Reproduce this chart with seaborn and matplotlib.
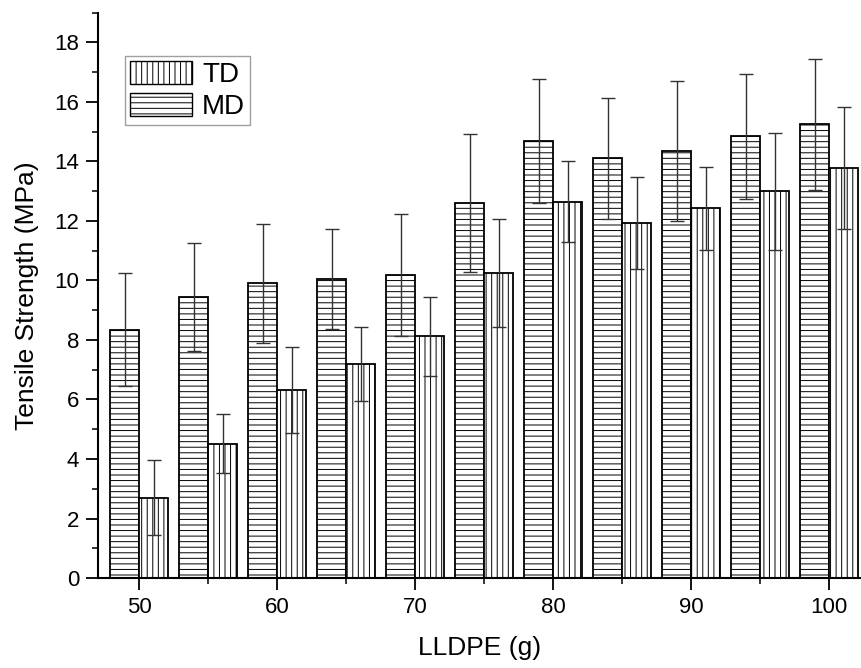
import numpy as np
import pandas as pd
import matplotlib.pyplot as plt
import seaborn as sns
from matplotlib.patches import Patch
from matplotlib.ticker import MultipleLocator

# LLDPE amount (g)
lldpe = [50, 55, 60, 65, 70, 75, 80, 85, 90, 95, 100]

# Tensile strength (MPa) and error for each direction
md_strength = [8.35, 9.45, 9.9, 10.05, 10.2, 12.6, 14.7, 14.1, 14.35, 14.85, 15.25]
md_error = [1.9, 1.82, 2.0, 1.67, 2.05, 2.33, 2.08, 2.03, 2.35, 2.1, 2.2]
td_strength = [2.7, 4.52, 6.32, 7.2, 8.12, 10.25, 12.65, 11.93, 12.42, 13.0, 13.78]
td_error = [1.25, 0.98, 1.46, 1.25, 1.33, 1.83, 1.35, 1.55, 1.38, 1.97, 2.04]

directions = ["MD", "TD"]

sns.set_style("ticks")
plt.rcParams["font.family"] = ["Liberation Sans", "DejaVu Sans"]
plt.rcParams["hatch.linewidth"] = 0.7
plt.rcParams["hatch.color"] = "#222222"
plt.rcParams["text.color"] = "black"
plt.rcParams["axes.labelcolor"] = "black"

df = pd.DataFrame({
    "LLDPE": lldpe * 2,
    "Strength": md_strength + td_strength,
    "Direction": ["MD"] * len(lldpe) + ["TD"] * len(lldpe),
})

fig = plt.figure(figsize=(8.61, 6.68), dpi=100)
ax = fig.add_axes([0.1138, 0.1347, 0.8862, 0.8463])

bar_width = 0.84
sns.barplot(data=df, x="LLDPE", y="Strength", hue="Direction", hue_order=directions,
            native_scale=True, dodge=True, width=bar_width, errorbar=None,
            palette=["white", "white"], edgecolor="black", linewidth=1.3,
            legend=False, ax=ax)

# hatching: horizontal for MD (first hue level), vertical for TD
hatches = {"MD": "---", "TD": "|||"}
n = len(lldpe)
for i, bar in enumerate(ax.patches[:2 * n]):
    bar.set_hatch(hatches[directions[i // n]])

# error bars at the centre of each dodged bar
step = 5
offset = bar_width * step / 4
x = np.array(lldpe, dtype=float)
ax.errorbar(x - offset, md_strength, yerr=md_error, fmt="none", ecolor="#333333",
            elinewidth=1.0, capsize=5, capthick=1.0, zorder=5)
ax.errorbar(x + offset, td_strength, yerr=td_error, fmt="none", ecolor="#333333",
            elinewidth=1.0, capsize=5, capthick=1.0, zorder=5)

ax.set_xlim(47, 102.3)
ax.set_ylim(0, 19)
ax.xaxis.set_major_locator(MultipleLocator(10))
ax.xaxis.set_minor_locator(MultipleLocator(5))
ax.yaxis.set_major_locator(MultipleLocator(2))
ax.yaxis.set_minor_locator(MultipleLocator(1))
ax.tick_params(which="major", direction="out", length=8.5, width=1.3, labelsize=16,
               colors="black", pad=5)
ax.tick_params(which="minor", direction="out", length=4.5, width=1.3)

for side in ["top", "right"]:
    ax.spines[side].set_visible(False)
for side in ["left", "bottom"]:
    ax.spines[side].set_linewidth(1.5)
    ax.spines[side].set_color("black")

ax.set_xlabel("LLDPE (g)", fontsize=19, labelpad=13)
ax.set_ylabel("Tensile Strength (MPa)", fontsize=19, labelpad=11)

handles = [Patch(facecolor="white", edgecolor="black", hatch="|||", label="TD"),
           Patch(facecolor="white", edgecolor="black", hatch="---", label="MD")]
leg = ax.legend(handles=handles, loc="upper left", bbox_to_anchor=(0.035, 0.923),
                fontsize=20, frameon=True, fancybox=False, handlelength=2.25,
                handleheight=0.9, handletextpad=0.35, borderpad=0.18,
                labelspacing=0.15, borderaxespad=0)
leg.get_frame().set_edgecolor("#888888")
leg.get_frame().set_linewidth(1.0)

fig.savefig("out.png", dpi=100)
